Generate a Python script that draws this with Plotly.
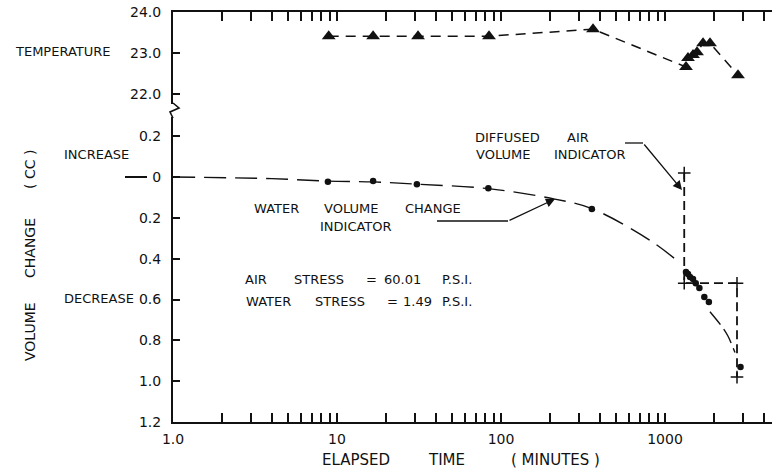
import math
import plotly.graph_objects as go
from plotly.subplots import make_subplots

# ---------------- data ----------------
time_temp = [8.9, 16.6, 31.2, 84.5, 364, 1343, 1381, 1482, 1568, 1706, 1881, 2787]
temperature = [23.41, 23.41, 23.41, 23.41, 23.58, 22.66, 22.88, 22.95, 23.02, 23.24, 23.24, 22.46]

time_water = [8.8, 16.6, 30.7, 83.7, 358, 1343, 1381, 1420, 1482, 1540, 1620, 1737, 1852, 2887]
water_change = [0.023, 0.02, 0.035, 0.055, 0.157, 0.465, 0.475, 0.49, 0.50, 0.52, 0.544, 0.588, 0.612, 0.93]

curve_time_a = [1.0, 4.0, 8.8, 16.6, 30.7, 83.7, 213, 358, 810, 1230]
curve_change_a = [0.0, 0.008, 0.02, 0.024, 0.035, 0.057, 0.108, 0.155, 0.31, 0.42]
curve_time_b = [1880, 2258, 2424, 2672]
curve_change_b = [0.66, 0.74, 0.78, 0.86]

time_air = [1310, 1310, 2748, 2748]
air_change = [-0.02, 0.52, 0.52, 0.98]

temp_ticks = [22, 23, 24]
temp_ticktext = ["22.0", "23.0", "24.0"]
vol_ticks = [-0.2, 0, 0.2, 0.4, 0.6, 0.8, 1.0, 1.2]
vol_ticktext = ["0.2", "0", "0.2", "0.4", "0.6", "0.8", "1.0", "1.2"]
x_labels = {1: "1.0", 10: "10", 100: "100", 1000: "1000"}

# ---------------- layout geometry ----------------
W, H = 772, 472
L, R, T, B = 173, 772, 12, 422
FONT = "DejaVu Sans"
INK = "#111111"


def px(x):
    return (x - L) / (R - L)


def py(y):
    return (B - y) / (B - T)


fig = make_subplots(rows=2, cols=1, shared_xaxes=True, vertical_spacing=0.0)

# temperature
fig.add_trace(go.Scatter(x=time_temp, y=temperature, mode="lines+markers",
                         line=dict(color=INK, width=1.5, dash="10px,7px"),
                         marker=dict(symbol="triangle-up", size=12, color=INK),
                         showlegend=False), row=1, col=1)

# water volume change fitted curve
fig.add_trace(go.Scatter(x=curve_time_a, y=curve_change_a, mode="lines",
                         line=dict(color=INK, width=1.4, dash="22px,9px", shape="spline"),
                         showlegend=False), row=2, col=1)
fig.add_trace(go.Scatter(x=curve_time_b, y=curve_change_b, mode="lines",
                         line=dict(color=INK, width=1.4, dash="16px,6px", shape="spline"),
                         showlegend=False), row=2, col=1)
fig.add_trace(go.Scatter(x=time_water, y=water_change, mode="markers",
                         marker=dict(symbol="circle", size=6.5, color=INK),
                         showlegend=False), row=2, col=1)

# diffused air
fig.add_trace(go.Scatter(x=time_air, y=air_change, mode="lines+markers",
                         line=dict(color=INK, width=1.8, dash="9px,5px"),
                         marker=dict(symbol="cross-thin", size=9,
                                     line=dict(color=INK, width=1.5)),
                         showlegend=False), row=2, col=1)

xmax = (R - L) / 164.0
tickvals = []
ticktext = []
for dec in [1, 10, 100, 1000]:
    for k in range(1, 10):
        v = dec * k
        if math.log10(v) <= xmax:
            tickvals.append(v)
            ticktext.append(x_labels.get(v, ""))

axis_common = dict(showgrid=False, zeroline=False, showline=True, linecolor=INK,
                   linewidth=2, ticks="inside", tickcolor=INK,
                   tickfont=dict(family=FONT, size=14, color=INK))

fig.update_layout(
    width=W, height=H,
    margin=dict(l=L, r=W - R, t=T, b=H - B),
    paper_bgcolor="white", plot_bgcolor="white",
    font=dict(family=FONT, color=INK),
    xaxis=dict(axis_common, type="log", range=[0, xmax], tickvals=tickvals,
               ticktext=ticktext, ticklen=9, tickwidth=1.5, domain=[0, 1],
               showticklabels=False, side="top"),
    xaxis2=dict(axis_common, type="log", range=[0, xmax], tickvals=tickvals,
                ticktext=ticktext, ticklen=9, tickwidth=1.5, domain=[0, 1],
                ticklabelstandoff=3),
    yaxis=dict(axis_common, domain=[py(104), 1], range=[21.756, 24.0],
               tickvals=temp_ticks, ticktext=temp_ticktext, ticklen=7,
               tickwidth=1.5, ticklabelstandoff=7),
    yaxis2=dict(axis_common, domain=[0, py(117)], range=[1.2, -0.294],
                tickvals=vol_ticks, ticktext=vol_ticktext, ticklen=7,
                tickwidth=1.5, ticklabelstandoff=7),
)
fig.update_xaxes(showticklabels=False, side="top", row=1, col=1)
fig.update_xaxes(showticklabels=True, side="bottom", row=2, col=1)

annotations = []


def txt(s, x, y, size=13, anchor="left", angle=0):
    annotations.append(dict(text=s, x=px(x), y=py(y), xref="paper", yref="paper",
                            xanchor=anchor, yanchor="middle", showarrow=False,
                            textangle=angle,
                            font=dict(family=FONT, size=size, color=INK)))


txt("TEMPERATURE", 13, 52)
txt("INCREASE", 62, 154)
txt("DECREASE", 62, 298)
txt("VOLUME", 30, 332, 14, "center", -90)
txt("CHANGE", 30, 248, 14, "center", -90)
txt("( CC )", 30, 170, 14, "center", -90)

for w, x in [("WATER", 252), ("VOLUME", 322), ("CHANGE", 403)]:
    txt(w, x, 208)
txt("INDICATOR", 318, 226)
for w, x in [("DIFFUSED", 473), ("AIR", 565)]:
    txt(w, x, 137)
for w, x in [("VOLUME", 474), ("INDICATOR", 552)]:
    txt(w, x, 154)
for w, x in [("AIR", 243), ("STRESS", 292), ("=", 364), ("60.01", 382), ("P.S.I.", 440)]:
    txt(w, x, 279)
for w, x in [("WATER", 244), ("STRESS", 313), ("=", 385), ("1.49", 401), ("P.S.I.", 440)]:
    txt(w, x, 301)
for w, x in [("ELAPSED", 320), ("TIME", 426), ("( MINUTES )", 509)]:
    txt(w, x, 460, 15)

# arrows (diagonal parts)
annotations.append(dict(x=px(555), y=py(199), xref="paper", yref="paper", text="",
                        showarrow=True, arrowhead=2, arrowsize=1.4, arrowwidth=1.3,
                        arrowcolor=INK, ax=508 - 555, ay=221 - 199))
annotations.append(dict(x=px(682), y=py(190), xref="paper", yref="paper", text="",
                        showarrow=True, arrowhead=2, arrowsize=1.4, arrowwidth=1.3,
                        arrowcolor=INK, ax=643 - 682, ay=143 - 190))
fig.update_layout(annotations=annotations)

shapes = [
    # horizontal leaders of arrows
    dict(type="line", xref="paper", yref="paper", x0=px(437), x1=px(508),
         y0=py(221), y1=py(221), line=dict(color=INK, width=1.3)),
    dict(type="line", xref="paper", yref="paper", x0=px(625), x1=px(643),
         y0=py(143), y1=py(143), line=dict(color=INK, width=1.3)),
    # dash in front of the zero label
    dict(type="line", xref="paper", yref="paper", x0=px(125), x1=px(147),
         y0=py(177), y1=py(177), line=dict(color=INK, width=2)),
    # axis break zigzag
    dict(type="path", xref="paper", yref="paper",
         path="M {},{} L {},{} L {},{} L {},{}".format(
             px(173), py(103), px(179), py(108), px(170), py(112), px(173), py(118)),
         line=dict(color=INK, width=1.6)),
]
fig.update_layout(shapes=shapes)

fig.write_html("out.html")
